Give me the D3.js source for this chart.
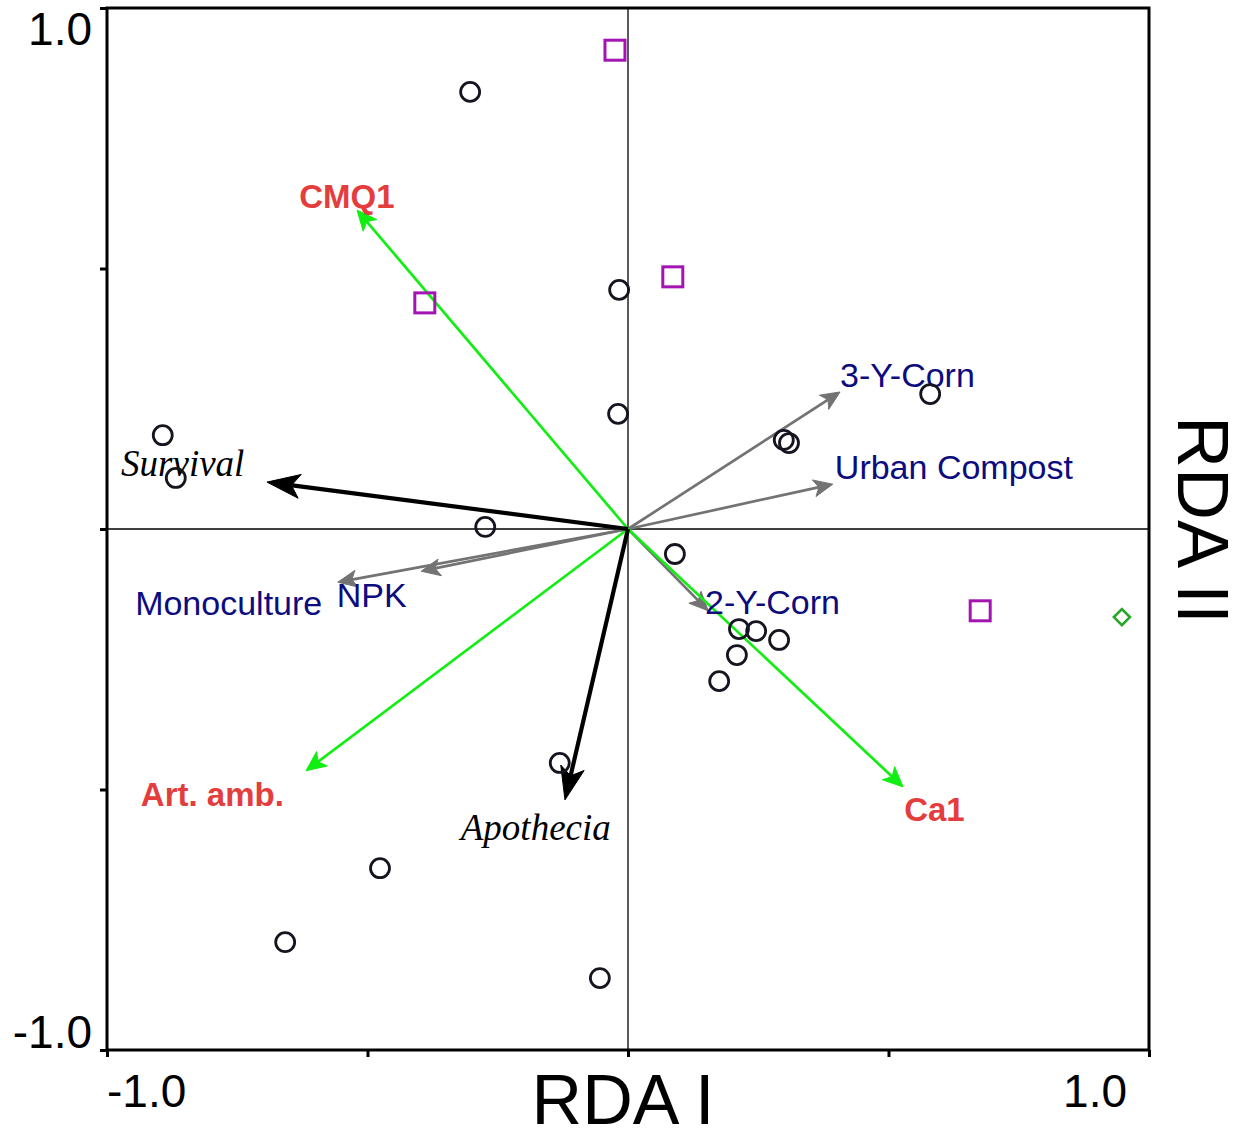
<!DOCTYPE html>
<html lang="en">
<head>
<meta charset="utf-8">
<title>RDA biplot</title>
<script src="https://d3js.org/d3.v7.min.js"></script>
<style>
  body { margin: 0; background: #fff; }
  svg text { font-family: "Liberation Sans", Arial, sans-serif; }
</style>
</head>
<body>
<script>
// sample scores (RDA I, RDA II)
var siteX = [-0.303, -0.017, -0.019, -0.893, -0.868, -0.274, 0.299, 0.309, 0.580, 0.090,
             0.213, 0.246, 0.290, 0.209, 0.175, -0.131, -0.476, -0.658, -0.054];
var siteY = [0.839, 0.459, 0.221, 0.180, 0.098, 0.004, 0.171, 0.165, 0.259, -0.048,
             -0.192, -0.196, -0.213, -0.242, -0.292, -0.449, -0.651, -0.793, -0.862];

// square samples
var squareX = [-0.025, 0.086, -0.390, 0.676];
var squareY = [0.919, 0.484, 0.434, -0.157];

// diamond sample
var diamondX = [0.948];
var diamondY = [-0.169];

// arrow groups: name, tip x, tip y, label anchor x, label anchor y
var envNames = ["CMQ1", "Art. amb.", "Ca1"];
var envX = [-0.520, -0.618, 0.528];
var envY = [0.612, -0.464, -0.495];
var envLabX = [-0.631, -0.935, 0.530];
var envLabY = [0.616, -0.532, -0.560];

var respNames = ["Survival", "Apothecia"];
var respX = [-0.693, -0.121];
var respY = [0.090, -0.520];
var respLabX = [-0.973, -0.321];
var respLabY = [0.102, -0.597];

var trtNames = ["3-Y-Corn", "Urban Compost", "2-Y-Corn", "Monoculture", "NPK"];
var trtX = [0.407, 0.393, 0.154, -0.557, -0.397];
var trtY = [0.263, 0.086, -0.157, -0.102, -0.081];
var trtLabX = [0.407, 0.397, 0.148, -0.946, -0.559];
var trtLabY = [0.273, 0.096, -0.163, -0.165, -0.150];

var tickVals = [-1, -0.5, 0, 0.5, 1];

var w = 1239, h = 1131;
var pLeft = 107, pRight = 1149, pTop = 8, pBottom = 1050;

var x = d3.scaleLinear().domain([-1, 1]).range([pLeft, pRight]);
var y = d3.scaleLinear().domain([-1, 1]).range([pBottom, pTop]);

var svg = d3.select("body").append("svg")
  .attr("width", w).attr("height", h);

// zero lines
svg.append("line").attr("x1", x(0)).attr("x2", x(0)).attr("y1", y(1)).attr("y2", y(-1))
  .attr("stroke", "#000").attr("stroke-width", 1.3);
svg.append("line").attr("x1", x(-1)).attr("x2", x(1)).attr("y1", y(0)).attr("y2", y(0))
  .attr("stroke", "#000").attr("stroke-width", 1.3);

// frame
svg.append("rect").attr("x", pLeft).attr("y", pTop)
  .attr("width", pRight - pLeft).attr("height", pBottom - pTop)
  .attr("fill", "none").attr("stroke", "#000").attr("stroke-width", 3);

// axes ticks
var xAxis = d3.axisBottom(x).tickValues(tickVals).tickSize(7).tickFormat("");
var yAxis = d3.axisLeft(y).tickValues(tickVals).tickSize(7).tickFormat("");
svg.append("g").attr("transform", "translate(0," + pBottom + ")").call(xAxis)
  .call(function(g) { g.select(".domain").remove(); g.selectAll("line").attr("stroke-width", 3); });
svg.append("g").attr("transform", "translate(" + pLeft + ",0)").call(yAxis)
  .call(function(g) { g.select(".domain").remove(); g.selectAll("line").attr("stroke-width", 3); });

// tick labels
svg.append("text").attr("x", 92).attr("y", y(1) + 37).attr("text-anchor", "end")
  .attr("font-size", 46).text("1.0");
svg.append("text").attr("x", 92).attr("y", y(-1) - 2).attr("text-anchor", "end")
  .attr("font-size", 46).text("-1.0");
svg.append("text").attr("x", x(-1)).attr("y", 1107).attr("text-anchor", "start")
  .attr("font-size", 46).text("-1.0");
svg.append("text").attr("x", x(1) - 22).attr("y", 1107).attr("text-anchor", "end")
  .attr("font-size", 46).text("1.0");

// axis titles
svg.append("text").attr("x", x(0) - 5).attr("y", 1124).attr("text-anchor", "middle")
  .attr("font-size", 70).text("RDA I");
svg.append("text").attr("transform", "translate(1178," + (y(0) - 9) + ") rotate(90)")
  .attr("text-anchor", "middle").attr("font-size", 72).text("RDA II");

// arrow helper
function arrow(g, tx, ty, color, lw, hl, hw) {
  var x0 = x(0), y0 = y(0), x1 = x(tx), y1 = y(ty);
  var dx = x1 - x0, dy = y1 - y0, len = Math.sqrt(dx * dx + dy * dy);
  var ux = dx / len, uy = dy / len;
  var bx = x1 - ux * hl, by = y1 - uy * hl;
  g.append("line").attr("x1", x0).attr("y1", y0)
    .attr("x2", x1 - ux * hl * 0.6).attr("y2", y1 - uy * hl * 0.6)
    .attr("stroke", color).attr("stroke-width", lw);
  var pts = [[x1, y1], [bx - uy * hw, by + ux * hw], [x1 - ux * hl * 0.75, y1 - uy * hl * 0.75], [bx + uy * hw, by - ux * hw]];
  g.append("polygon").attr("points", pts.map(function(p) { return p.join(","); }).join(" "))
    .attr("fill", color).attr("stroke", color).attr("stroke-width", 1).attr("stroke-linejoin", "round");
}

var arrows = svg.append("g");
trtNames.forEach(function(n, i) { arrow(arrows, trtX[i], trtY[i], "#737373", 2.7, 19, 8.5); });
envNames.forEach(function(n, i) { arrow(arrows, envX[i], envY[i], "#11ee11", 2.7, 20, 9); });
respNames.forEach(function(n, i) { arrow(arrows, respX[i], respY[i], "#000", 4.2, 33, 12); });

// labels
svg.selectAll(".trt").data(trtNames).enter().append("text")
  .attr("x", function(d, i) { return x(trtLabX[i]); })
  .attr("y", function(d, i) { return y(trtLabY[i]); })
  .attr("font-size", 34).attr("fill", "#0c0c7e").text(function(d) { return d; });
svg.selectAll(".env").data(envNames).enter().append("text")
  .attr("x", function(d, i) { return x(envLabX[i]); })
  .attr("y", function(d, i) { return y(envLabY[i]); })
  .attr("font-size", 33).attr("font-weight", "bold").attr("fill", "#e43d3d").text(function(d) { return d; });
svg.selectAll(".resp").data(respNames).enter().append("text")
  .attr("x", function(d, i) { return x(respLabX[i]); })
  .attr("y", function(d, i) { return y(respLabY[i]); })
  .attr("font-size", 37).attr("font-style", "italic")
  .style("font-family", "'Liberation Serif', 'Times New Roman', serif")
  .attr("fill", "#000").text(function(d) { return d; });

// sample points
svg.selectAll(".site").data(siteX).enter().append("circle")
  .attr("cx", function(d) { return x(d); })
  .attr("cy", function(d, i) { return y(siteY[i]); })
  .attr("r", 9.5).attr("fill", "none").attr("stroke", "#151520").attr("stroke-width", 2.8);

svg.selectAll(".sq").data(squareX).enter().append("rect")
  .attr("x", function(d) { return x(d) - 10; })
  .attr("y", function(d, i) { return y(squareY[i]) - 10; })
  .attr("width", 20).attr("height", 20)
  .attr("fill", "none").attr("stroke", "#a314b3").attr("stroke-width", 3);

svg.selectAll(".dia").data(diamondX).enter().append("path")
  .attr("transform", function(d, i) { return "translate(" + x(d) + "," + y(diamondY[i]) + ")"; })
  .attr("d", "M0,-8L8,0L0,8L-8,0Z")
  .attr("fill", "none").attr("stroke", "#26a626").attr("stroke-width", 2.6);
</script>
</body>
</html>
